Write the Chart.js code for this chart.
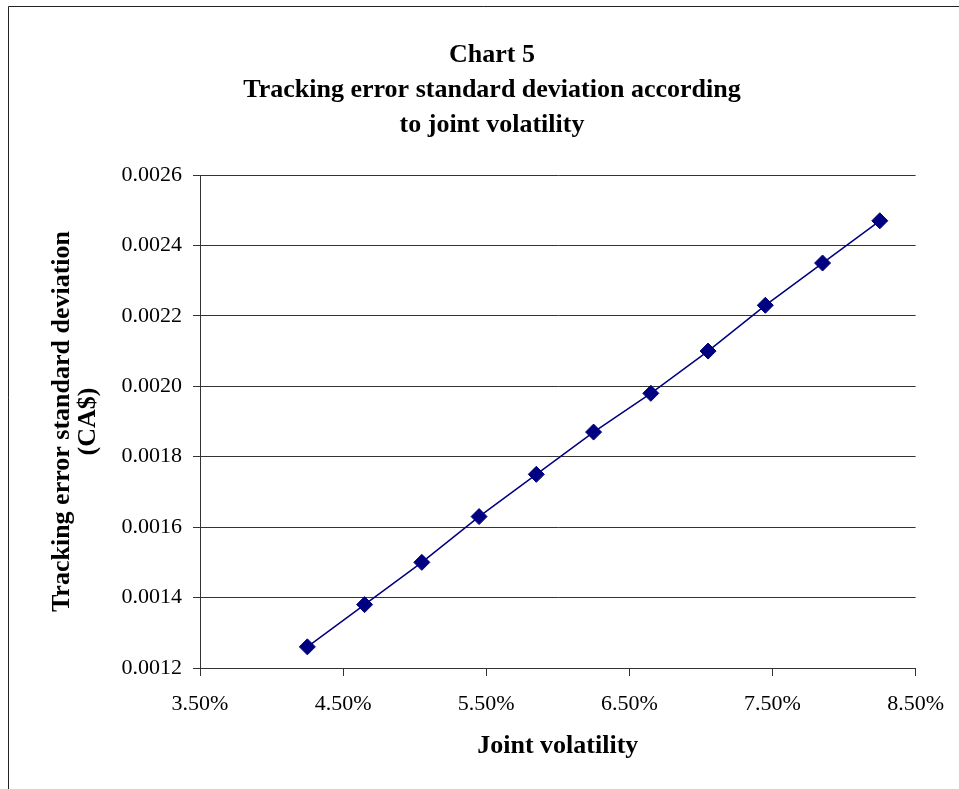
<!DOCTYPE html>
<html>
<head>
<meta charset="utf-8">
<title>Chart 5</title>
<script src="https://cdn.jsdelivr.net/npm/chart.js@4.4.1/dist/chart.umd.min.js"></script>
<style>
  html, body { margin: 0; padding: 0; background: #ffffff; }
  #wrap { width: 959px; height: 789px; position: relative; }
  canvas { display: block; }
</style>
</head>
<body>
<div id="wrap"><canvas id="chart" width="959" height="789"></canvas></div>
<script>
// Joint volatility (%) and the resulting tracking error standard deviation (CA$)
const jointVolatility = [4.25, 4.65, 5.05, 5.45, 5.85, 6.25, 6.65, 7.05, 7.45, 7.85, 8.25];
const trackingErrorSD = [0.00126, 0.00138, 0.00150, 0.00163, 0.00175, 0.00187, 0.00198, 0.00210, 0.00223, 0.00235, 0.00247];

// Axis ranges and tick steps
const xRange = [3.5, 8.5];
const xStep = 1;
const yRange = [0.0012, 0.0026];
const yStep = 0.0002;

// Texts
const titleLines = ['Chart 5', 'Tracking error standard deviation according', 'to joint volatility'];
const xTitle = 'Joint volatility';
const yTitle = ['Tracking error standard deviation', '(CA$)'];

const SERIF = '"Liberation Serif", "Times New Roman", Times, serif';
const NAVY = '#000080';
const AXIS = '#333333';

// White background and the frame around the figure
const framePlugin = {
  id: 'frame',
  beforeDraw(chart) {
    const ctx = chart.ctx;
    ctx.save();
    ctx.fillStyle = '#ffffff';
    ctx.fillRect(0, 0, chart.width, chart.height);
    ctx.strokeStyle = '#222222';
    ctx.lineWidth = 1;
    ctx.beginPath();
    ctx.moveTo(8.5, chart.height);
    ctx.lineTo(8.5, 6.5);
    ctx.lineTo(chart.width, 6.5);
    ctx.stroke();
    ctx.restore();
  }
};

// Three-line heading, centred over the whole figure
const headingPlugin = {
  id: 'heading',
  afterDraw(chart, args, opts) {
    const ctx = chart.ctx;
    ctx.save();
    ctx.fillStyle = '#000000';
    ctx.font = 'bold 26px ' + SERIF;
    ctx.textAlign = 'center';
    ctx.textBaseline = 'alphabetic';
    opts.lines.forEach((line, i) => {
      ctx.fillText(line, opts.centerX, opts.firstBaseline + i * opts.lineGap);
    });
    ctx.restore();
  }
};

const points = jointVolatility.map((x, i) => ({ x, y: trackingErrorSD[i] }));

new Chart(document.getElementById('chart'), {
  type: 'scatter',
  data: {
    datasets: [{
      label: 'Tracking error standard deviation',
      data: points,
      showLine: true,
      borderColor: NAVY,
      borderWidth: 1.5,
      backgroundColor: NAVY,
      pointStyle: 'rectRot',
      pointRadius: 8,
      pointBorderWidth: 1,
      pointBorderColor: NAVY,
      pointBackgroundColor: NAVY,
      tension: 0
    }]
  },
  options: {
    responsive: false,
    animation: false,
    devicePixelRatio: 1,
    layout: { padding: { top: 175, left: 0, right: 40, bottom: 0 } },
    plugins: {
      legend: { display: false },
      tooltip: { enabled: false },
      title: { display: false },
      heading: { lines: titleLines, centerX: 492, firstBaseline: 62, lineGap: 35 }
    },
    scales: {
      x: {
        type: 'linear',
        min: xRange[0],
        max: xRange[1],
        afterFit(scale) { scale.height = 121; },
        ticks: {
          stepSize: xStep,
          color: '#000000',
          padding: 15,
          font: { family: SERIF, size: 22 },
          callback: v => v.toFixed(2) + '%'
        },
        grid: {
          drawOnChartArea: false,
          drawTicks: true,
          tickLength: 8,
          color: AXIS
        },
        border: { display: true, color: AXIS, width: 1 },
        title: {
          display: true,
          text: xTitle,
          color: '#000000',
          font: { family: SERIF, size: 26, weight: 'bold' },
          padding: { top: 0, bottom: 27 }
        }
      },
      y: {
        type: 'linear',
        min: yRange[0],
        max: yRange[1],
        afterFit(scale) { scale.width = 200; },
        ticks: {
          stepSize: yStep,
          color: '#000000',
          padding: 11,
          font: { family: SERIF, size: 22 },
          callback: v => v.toFixed(4)
        },
        grid: {
          drawOnChartArea: true,
          drawTicks: true,
          tickLength: 7,
          color: AXIS
        },
        border: { display: true, color: AXIS, width: 1 },
        title: {
          display: true,
          text: yTitle,
          color: '#000000',
          font: { family: SERIF, size: 26, weight: 'bold', lineHeight: '26px' },
          padding: { top: 49, bottom: 0 }
        }
      }
    }
  },
  plugins: [framePlugin, headingPlugin]
});
</script>
</body>
</html>
